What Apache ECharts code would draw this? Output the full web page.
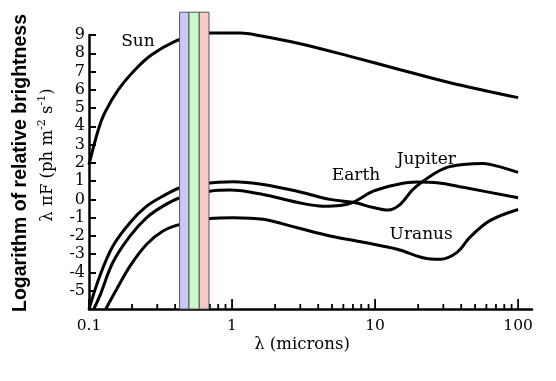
<!DOCTYPE html>
<html><head><meta charset="utf-8">
<script src="https://cdn.jsdelivr.net/npm/echarts@6/dist/echarts.min.js"></script>
<style>html,body{margin:0;padding:0;background:#fff}#c{width:556px;height:381px}</style>
</head><body><div id="c"></div>
<script>
// wavelength (microns) and log brightness values
const sunLambda = [0.1, 0.116, 0.129, 0.16, 0.21, 0.274, 0.399, 0.55, 0.70, 1.14, 1.57, 2.99, 6.69, 15.0, 33.4, 100];
const sunValue  = [1.9, 3.8, 4.75, 6.0, 7.1, 7.92, 8.65, 9.0, 9.11, 9.11, 8.96, 8.52, 7.83, 7.10, 6.39, 5.57];

const jupiterLambda = [0.1, 0.119, 0.147, 0.194, 0.253, 0.329, 0.433, 0.6, 1.02, 1.65, 2.85, 4.84, 7.0, 9.7, 12.3, 15.0, 18.4, 24.3, 31.8, 41.2, 56.9, 71.3, 100];
const jupiterValue  = [-6, -4.19, -2.55, -1.26, -0.37, 0.18, 0.64, 0.85, 0.97, 0.82, 0.45, 0.0, -0.16, -0.44, -0.58, -0.27, 0.55, 1.27, 1.75, 1.91, 1.97, 1.82, 1.48];

const earthLambda = [0.108, 0.119, 0.147, 0.194, 0.253, 0.329, 0.433, 0.70, 0.97, 1.65, 2.85, 4.33, 5.69, 7.0, 9.7, 14.3, 19.7, 27.2, 41.2, 100];
const earthValue  = [-6, -5.28, -3.44, -2.0, -1.0, -0.37, 0.09, 0.45, 0.51, 0.27, -0.16, -0.37, -0.33, -0.16, 0.45, 0.82, 0.95, 0.91, 0.66, 0.09];

const uranusLambda = [0.131, 0.156, 0.194, 0.253, 0.329, 0.433, 0.70, 1.02, 1.65, 2.85, 4.84, 8.27, 14.3, 21.6, 28.5, 37.4, 46.3, 63.9, 100];
const uranusValue  = [-6, -4.92, -3.64, -2.46, -1.73, -1.37, -1.04, -1.0, -1.09, -1.55, -2.0, -2.35, -2.73, -3.19, -3.28, -2.9, -2.05, -1.15, -0.55];

// visible-light bands (microns)
const bandStart = [0.43, 0.50, 0.59];
const bandEnd   = [0.50, 0.59, 0.69];
const bandTopValue = 10.25;

// axis ticks
const yTicks = [9, 8, 7, 6, 5, 4, 3, 2, 1, 0, -1, -2, -3, -4, -5];
const xMajorTicks = [0.1, 1, 10, 100];
const xMinorTicks = [0.2,0.3,0.4,0.5,0.6,0.7,0.8,0.9, 2,3,4,5,6,7,8,9, 20,30,40,50,60,70,80,90];

// curve labels
const labelNames  = ['Sun', 'Earth', 'Jupiter', 'Uranus'];
const labelLambda = [0.22, 7.36, 22.8, 21.0];
const labelValue  = [8.63, 1.31, 2.19, -1.91];

const pairs = (xs, ys) => xs.map((x, i) => [x, ys[i]]);
const SERIF = 'DejaVu Serif';
const bandColors = ['#c9c9f9', '#c9f9c9', '#f9c9c9'];

const lineStyleBase = { color: '#000', width: 3 };
function curve(name, xs, ys) {
  return { name, type: 'line', data: pairs(xs, ys), smooth: 0.35, symbol: 'none',
    clip: false, lineStyle: lineStyleBase, z: 2, silent: true, animation: false };
}

const chart = echarts.init(document.getElementById('c'), null, { renderer: 'canvas' });
chart.setOption({
  animation: false,
  backgroundColor: '#fff',
  grid: { left: 89, right: 24, top: 35, bottom: 72, containLabel: false, outerBoundsMode: 'none' },
  xAxis: {
    type: 'log', logBase: 10, min: 0.1, max: 125,
    axisLine: { show: true, onZero: false, lineStyle: { color: '#000', width: 2.5 } },
    axisTick: { show: false },
    splitLine: { show: false },
    minorTick: { show: false },
    axisLabel: {
      color: '#000', fontFamily: SERIF, fontSize: 15.5, margin: 9, showMaxLabel: false,
      formatter: v => {
        const l = Math.log10(v);
        if (Math.abs(l - Math.round(l)) > 1e-6) return '';
        return String(+Math.pow(10, Math.round(l)).toPrecision(3));
      }
    }
  },
  yAxis: {
    type: 'value', min: -6, max: 9, interval: 1,
    axisLine: { show: true, onZero: false, lineStyle: { color: '#000', width: 2.5 } },
    axisTick: { show: true, inside: true, length: 7, lineStyle: { color: '#000', width: 2 } },
    splitLine: { show: false },
    axisLabel: {
      color: '#000', fontFamily: SERIF, fontSize: 16, margin: 4,
      formatter: v => (yTicks.indexOf(v) >= 0 ? String(v) : '')
    }
  },
  series: [
    curve('Sun', sunLambda, sunValue),
    curve('Jupiter', jupiterLambda, jupiterValue),
    curve('Earth', earthLambda, earthValue),
    curve('Uranus', uranusLambda, uranusValue),
    {
      type: 'custom', name: 'xticks', clip: false, z: 3, silent: true,
      data: xMajorTicks.map(v => [v, 1]).concat(xMinorTicks.map(v => [v, 0])),
      encode: { x: 0 },
      renderItem: (params, api) => {
        const p = api.coord([api.value(0), -6]);
        const len = api.value(1) ? 10 : 5;
        return { type: 'line', shape: { x1: p[0], y1: p[1], x2: p[0], y2: p[1] - len },
          style: { stroke: '#000', lineWidth: 1.8 } };
      }
    },
    {
      type: 'custom', name: 'bands', clip: false, z: 5, silent: true,
      data: bandStart.map((s, i) => [s, bandEnd[i]]),
      encode: { x: [0, 1] },
      renderItem: (params, api) => {
        const p0 = api.coord([api.value(0), bandTopValue]);
        const p1 = api.coord([api.value(1), -6]);
        return { type: 'rect',
          shape: { x: p0[0], y: p0[1], width: p1[0] - p0[0], height: p1[1] - p0[1] },
          style: { fill: bandColors[params.dataIndex], stroke: '#555', lineWidth: 1 } };
      }
    },
    {
      type: 'scatter', name: 'labels', symbolSize: 1, silent: true, z: 6,
      itemStyle: { color: 'transparent', opacity: 1 },
      data: labelNames.map((n, i) => ({ name: n, value: [labelLambda[i], labelValue[i]] })),
      label: { show: true, position: 'inside', formatter: '{b}', color: '#000', opacity: 1,
        fontFamily: SERIF, fontSize: 17 }
    }
  ],
  graphic: [
    { type: 'text', x: 21, y: 163, rotation: Math.PI / 2,
      style: { text: 'Logarithm of relative brightness', fill: '#000',
        font: 'bold 19.5px "Liberation Sans", Arial, sans-serif', align: 'center', verticalAlign: 'middle' } },
    { type: 'text', x: 48, y: 155, rotation: Math.PI / 2,
      style: { text: 'λ πF (ph m{sup|-2} s{sup|-1})', fill: '#000',
        fontFamily: SERIF, fontSize: 16.5, lineHeight: 22, align: 'center', verticalAlign: 'middle',
        rich: { sup: { fontFamily: SERIF, fontSize: 11, verticalAlign: 'top', lineHeight: 22, fill: '#000' } } } },
    { type: 'text', x: 302, y: 345,
      style: { text: 'λ (microns)', fill: '#000', fontFamily: SERIF, fontSize: 16.5,
        align: 'center', verticalAlign: 'middle' } }
  ]
});
</script></body></html>
